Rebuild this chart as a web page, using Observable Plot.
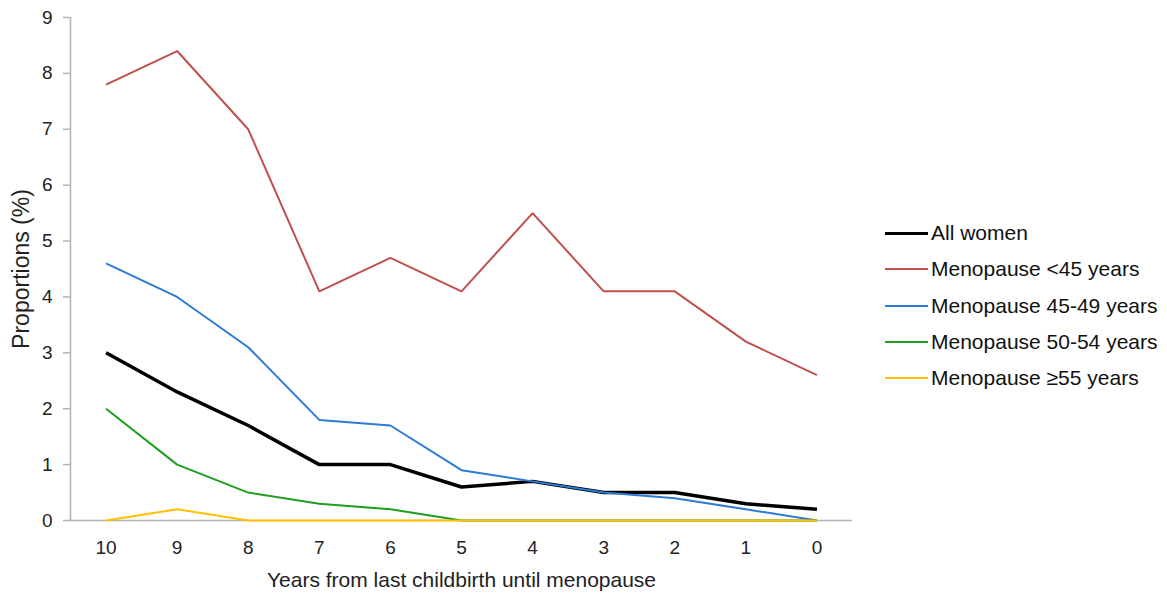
<!DOCTYPE html>
<html>
<head>
<meta charset="utf-8">
<script src="https://cdn.jsdelivr.net/npm/d3@7"></script>
<script src="https://cdn.jsdelivr.net/npm/@observablehq/plot@0.6"></script>
<style>
  html, body { margin: 0; padding: 0; background: #fff; }
  #wrap { position: relative; width: 1167px; height: 599px; overflow: hidden; font-family: "Liberation Sans", Arial, sans-serif; }
  #legend { position: absolute; left: 885px; top: 215px; font-size: 21px; color: #111; }
  .item { display: flex; align-items: center; height: 36.3px; }
  .sw { width: 43px; margin-right: 3px; }
</style>
</head>
<body>
<div id="wrap"><div id="legend"></div></div>
<script>
const years = [10, 9, 8, 7, 6, 5, 4, 3, 2, 1, 0];
const seriesNames = ["All women", "Menopause <45 years", "Menopause 45-49 years", "Menopause 50-54 years", "Menopause \u226555 years"];
const allWomen = [3.0, 2.3, 1.7, 1.0, 1.0, 0.6, 0.7, 0.5, 0.5, 0.3, 0.2];
const meno45 = [7.8, 8.4, 7.0, 4.1, 4.7, 4.1, 5.5, 4.1, 4.1, 3.2, 2.6];
const meno4549 = [4.6, 4.0, 3.1, 1.8, 1.7, 0.9, 0.7, 0.5, 0.4, 0.2, 0.0];
const meno5054 = [2.0, 1.0, 0.5, 0.3, 0.2, 0.0, 0.0, 0.0, 0.0, 0.0, 0.0];
const meno55 = [0.0, 0.2, 0.0, 0.0, 0.0, 0.0, 0.0, 0.0, 0.0, 0.0, 0.0];
const yTicks = [0, 1, 2, 3, 4, 5, 6, 7, 8, 9];
const colors = ["#000000", "#c0504d", "#2c7bd6", "#1f9e1f", "#ffc000"];
const widths = [3.5, 2, 2, 2, 2];

const seriesValues = [allWomen, meno45, meno4549, meno5054, meno55];
const rows = [];
seriesValues.forEach((vals, si) => vals.forEach((v, i) => rows.push({series: seriesNames[si], year: years[i], value: v})));

const drawOrder = [0, 1, 2, 3, 4];
const lineMarks = drawOrder.map(si => Plot.line(rows.filter(r => r.series === seriesNames[si]), {
  x: "year", y: "value", stroke: colors[si], strokeWidth: widths[si], strokeLinejoin: "miter", strokeLinecap: "butt"
}));

const chart = Plot.plot({
  width: 1167,
  height: 599,
  marginLeft: 70,
  marginRight: 315,
  marginTop: 17,
  marginBottom: 79,
  style: {fontFamily: "'Liberation Sans', Arial, sans-serif", fontSize: "19px", color: "#222", background: "#fff"},
  x: {domain: [10.5, -0.5], ticks: years, tickFormat: d => String(d)},
  y: {domain: [0, 9], ticks: yTicks},
  marks: [
    Plot.ruleX([10.5], {y1: 0, y2: 9, stroke: "#b3b3b3", strokeWidth: 1.5}),
    Plot.ruleY([0], {stroke: "#b3b3b3", strokeWidth: 1.5}),
    Plot.axisY({ticks: yTicks, tickSize: 7, tickPadding: 11, stroke: "#b3b3b3", strokeWidth: 1.5, fill: "#222", fontSize: 19, label: null}),
    Plot.axisY({ticks: [], tickSize: 0, fill: "#222", fontSize: 23,
      label: "Proportions (%)", labelAnchor: "center", labelArrow: "none", labelOffset: 58}),
    Plot.axisX({ticks: years, tickSize: 0, tickPadding: 20, fill: "#222", fontSize: 19, label: null}),
    Plot.axisX({ticks: [], tickSize: 0, fill: "#222", fontSize: 21,
      label: "Years from last childbirth until menopause", labelAnchor: "center", labelArrow: "none", labelOffset: 66}),
    ...lineMarks
  ]
});
document.getElementById("wrap").prepend(chart);

const legend = document.getElementById("legend");
seriesNames.forEach((name, i) => {
  const item = document.createElement("div");
  item.className = "item";
  const sw = document.createElement("div");
  sw.className = "sw";
  sw.style.borderTop = `${i === 0 ? 3 : 2}px solid ${colors[i]}`;
  const t = document.createElement("span");
  t.textContent = name;
  item.append(sw, t);
  legend.append(item);
});
</script>
</body>
</html>
